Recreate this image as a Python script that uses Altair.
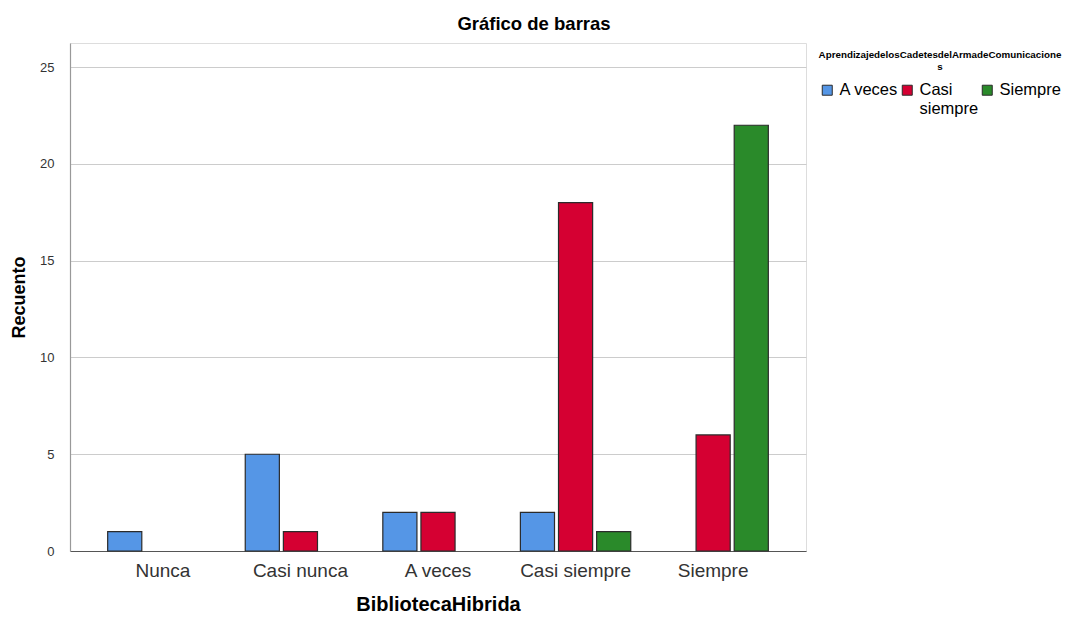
import altair as alt
import pandas as pd

categories = ["Nunca", "Casi nunca", "A veces", "Casi siempre", "Siempre"]
series = ["A veces", "Casi siempre", "Siempre"]
colors = ["#5596E6", "#D50032", "#2A8A2A"]
# counts per category for each series (None = no bar)
a_veces = [1, 5, 2, 2, None]
casi_siempre = [None, 1, 2, 18, 6]
siempre = [None, None, None, 1, 22]

rows = []
for i, c in enumerate(categories):
    for s, vals in zip(series, [a_veces, casi_siempre, siempre]):
        if vals[i] is not None:
            rows.append({"BibliotecaHibrida": c, "grupo": s, "Recuento": vals[i]})
df = pd.DataFrame(rows)

FONT = "Liberation Sans"

chart = alt.Chart(df).mark_bar(stroke="#2b2b2b", strokeWidth=1.2).encode(
    x=alt.X("BibliotecaHibrida:N", sort=categories,
            scale=alt.Scale(paddingInner=0.17, paddingOuter=0.26),
            axis=alt.Axis(title="BibliotecaHibrida", labelAngle=0, ticks=False,
                          labelFontSize=19, labelColor="#333333", labelPadding=10,
                          labelFont=FONT, titleFont=FONT, titleFontSize=20,
                          titleFontWeight="bold", titleColor="#000000", titlePadding=14,
                          domainColor="#555555", domainWidth=1.2, grid=False)),
    xOffset=alt.XOffset("grupo:N", sort=series,
                        scale=alt.Scale(domain=series, paddingInner=0.105, paddingOuter=0.05)),
    y=alt.Y("Recuento:Q",
            scale=alt.Scale(domain=[0, 26.25], nice=False),
            axis=alt.Axis(title="Recuento", values=[0, 5, 10, 15, 20, 25], ticks=False,
                          labelFontSize=13, labelColor="#333333", labelPadding=16,
                          labelFont=FONT, titleFont=FONT, titleFontSize=18,
                          titleFontWeight="bold", titleColor="#000000", titlePadding=11,
                          domainColor="#999999", domainWidth=1.2,
                          gridColor="#cccccc", gridWidth=1.2)),
    color=alt.Color("grupo:N", sort=series,
                    scale=alt.Scale(domain=series, range=colors),
                    legend=alt.Legend(
                        title=["AprendizajedelosCadetesdelArmadeComunicacione", "s"],
                        orient="none", legendX=749, legendY=7,
                        direction="horizontal", columns=3, columnPadding=0,
                        titleFont=FONT, titleFontSize=9.8, titleFontWeight="bold",
                        titleColor="#000000", titleAnchor="middle", titleAlign="center",
                        titleLimit=600, titlePadding=10, padding=0,
                        labelFont=FONT, labelFontSize=16.5, labelColor="#000000",
                        labelOffset=4, labelLimit=300,
                        labelExpr="datum.label == 'Casi siempre' ? ['Casi', 'siempre'] : [datum.label, ' ']",
                        symbolType="square", symbolSize=100,
                        symbolStrokeColor="#2b2b2b", symbolStrokeWidth=1,
                        symbolOpacity=1)),
).properties(
    width=736,
    height=508,
    title=alt.TitleParams("Gráfico de barras", font=FONT, fontSize=18.5,
                          fontWeight="bold", color="#000000", dx=96, offset=10,
                          anchor="middle"),
    autosize=alt.AutoSizeParams(type="none"),
    padding={"left": 62, "top": 35, "right": 256, "bottom": 64},
).configure_view(stroke=None).configure(background="white")

chart.save("out.html", embed_options={"renderer": "svg", "actions": False})
